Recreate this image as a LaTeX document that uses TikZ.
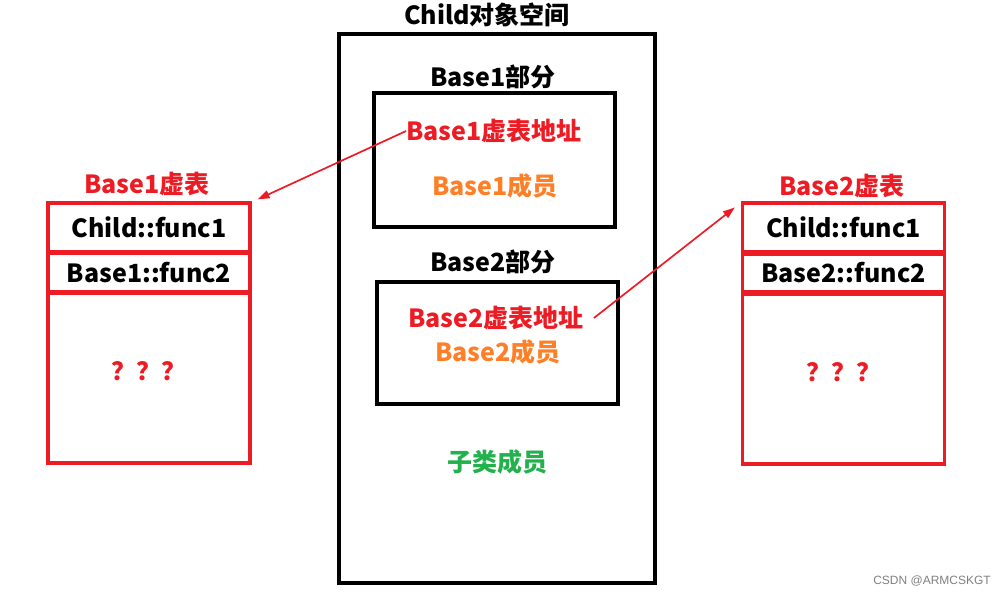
\documentclass[tikz,border=0pt]{standalone}
\usepackage{fontspec}
\setmainfont{Noto Sans CJK SC}
\newfontfamily\markfont{Liberation Sans}
\usepackage{xcolor}
\usepackage{tikz}
\usetikzlibrary{arrows.meta}

\definecolor{tabred}{RGB}{237,28,36}
\definecolor{memorange}{RGB}{255,127,39}
\definecolor{subgreen}{RGB}{34,177,76}

\begin{document}
\begin{tikzpicture}[x=1pt, y=-1pt,
    every node/.style={inner sep=0pt, font=\fontsize{25}{30}\selectfont\bfseries},
    objbox/.style={draw=black, line width=3.2pt},
    vtrow/.style={draw=tabred, line width=3.2pt, minimum width=202},
    ptr/.style={-{Triangle[length=12pt, width=8pt]}, tabred, line width=1.7pt}]

    \useasboundingbox (0,0) rectangle (1008,596);

    % =================================================================
    % 1. CHILD OBJECT SPACE
    % =================================================================
    \node (title) at (487,15) {Child对象空间};
    \node[objbox, minimum width=316, minimum height=549] (child) at (497,308.5) {};

    % Base1 part
    \node (part1) at (493,77) {Base1部分};
    \node[objbox, minimum width=241, minimum height=134] (base1) at (494.5,160) {};
    \node[text=tabred] (addr1) at (494,131) {Base1虚表地址};
    \node[text=memorange] (mem1) at (495,186) {Base1成员};

    % Base2 part
    \node (part2) at (493,262) {Base2部分};
    \node[objbox, minimum width=241, minimum height=122] (base2) at (497.5,343) {};
    \node[text=tabred] (addr2) at (496,318) {Base2虚表地址};
    \node[text=memorange] (mem2) at (498,352) {Base2成员};

    % members of the child class
    \node[text=subgreen] (sub) at (497,462) {子类成员};

    % =================================================================
    % 2. VIRTUAL TABLES
    % =================================================================
    % Base1 table
    \node[text=tabred] (vt1) at (147,184) {Base1虚表};
    \node[vtrow, minimum height=49] (vt1a) at (149,227.5) {Child::func1};
    \node[vtrow, minimum height=38] (vt1b) at (149,272.5) {Base1::func2};
    \node[vtrow, minimum height=169.5, text=tabred] (vt1c) at (149,378.25) {\raisebox{14pt}{？？？}};

    % Base2 table
    \node[text=tabred] (vt2) at (842,186) {Base2虚表};
    \node[vtrow, minimum height=49] (vt2a) at (843.5,227.5) {Child::func1};
    \node[vtrow, minimum height=38] (vt2b) at (843.5,273) {Base2::func2};
    \node[vtrow, minimum height=170, text=tabred] (vt2c) at (843.5,379) {\raisebox{14pt}{？？？}};

    % =================================================================
    % 3. POINTERS TO THE TABLES
    % =================================================================
    \draw[ptr] (addr1.west) -- ([xshift=6pt, yshift=2pt]vt1a.north east);
    \draw[ptr] ([xshift=10pt]addr2.east) -- ([xshift=-6pt, yshift=-6pt]vt2a.north west);

    % watermark
    \node[text=gray, font=\markfont\fontsize{12}{14}\selectfont] (mark) at (932,581) {CSDN @ARMCSKGT};

\end{tikzpicture}
\end{document}
